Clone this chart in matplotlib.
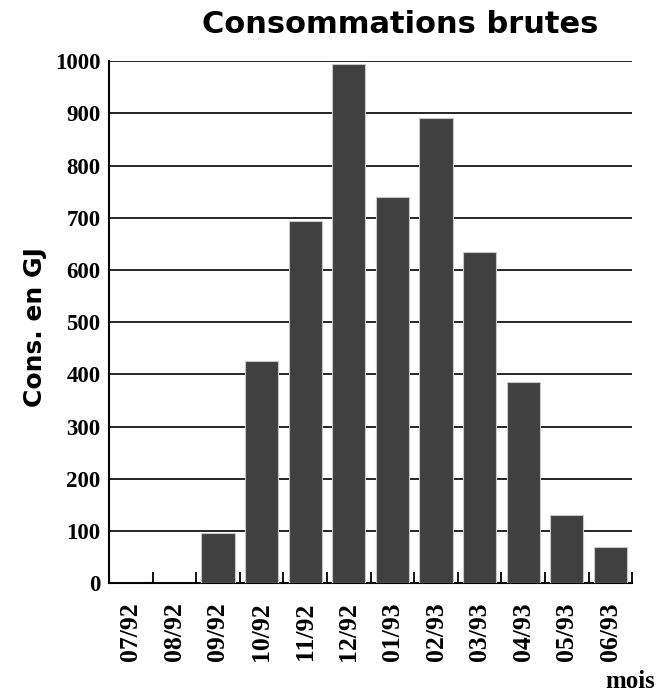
import matplotlib
matplotlib.use("Agg")
import matplotlib.pyplot as plt
import numpy as np

mois = ["07/92", "08/92", "09/92", "10/92", "11/92", "12/92",
        "01/93", "02/93", "03/93", "04/93", "05/93", "06/93"]
conso = [0, 0, 96, 425, 693, 994, 740, 892, 634, 385, 130, 70]
yticks = [0, 100, 200, 300, 400, 500, 600, 700, 800, 900, 1000]

narrow = "Liberation Serif"
heavy = "DejaVu Sans"

fig = plt.figure(figsize=(6.6, 6.95), dpi=100)
ax = fig.add_axes([0.165, 0.161, 0.793, 0.751])

x = np.arange(len(mois))
ax.bar(x, conso, width=0.76, color="#404040", edgecolor="#c8c8c8",
       linewidth=0.8, zorder=3)

ax.set_xlim(-0.5, len(mois) - 0.5)
ax.set_ylim(0, 1000)
ax.set_yticks(yticks)
ax.set_yticklabels([str(v) for v in yticks], family=narrow,
                   fontweight="bold", fontsize=16.5)
ax.tick_params(axis="y", length=0, pad=6)

for v in yticks[1:]:
    ax.axhline(v, color="black", linewidth=1.2, zorder=1)

ax.set_xticks(x)
ax.set_xticklabels(mois, rotation=90, family=narrow,
                   fontweight="bold", fontsize=18.5)
ax.tick_params(axis="x", which="major", length=0, pad=14)
ax.set_xticks(np.arange(len(mois)) + 0.5, minor=True)
ax.tick_params(axis="x", which="minor", direction="in", length=8,
               width=1.3, color="black")

for s in ["top", "right"]:
    ax.spines[s].set_visible(False)
for s in ["left", "bottom"]:
    ax.spines[s].set_linewidth(1.5)

fig.text(0.606, 0.965, "Consommations brutes", ha="center", va="center",
         fontsize=22, fontweight="heavy", family=heavy)
fig.text(0.053, 0.53, "Cons. en GJ", ha="center", va="center",
         rotation=90, fontsize=18, fontweight="heavy", family=heavy)
fig.text(0.955, 0.02, "mois", ha="center", va="center",
         fontsize=18, fontweight="bold", family=narrow)

fig.savefig("out.png", dpi=100)
